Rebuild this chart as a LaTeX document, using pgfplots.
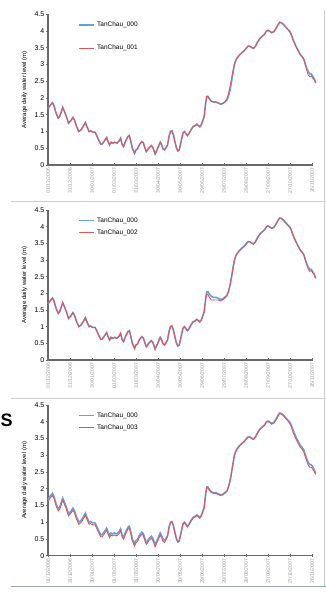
\documentclass[border=0pt]{standalone}
\usepackage{pgfplots}
\pgfplotsset{compat=1.18}
\usepackage{pgfplotstable}
\usepackage{fontspec}
\setmainfont{Liberation Sans}
\definecolor{sblue}{RGB}{105,160,215}
\definecolor{sred}{RGB}{228,85,90}
\definecolor{axgray}{RGB}{105,105,105}
\definecolor{lblgray}{RGB}{150,150,150}
\definecolor{framegray}{RGB}{205,205,205}
\definecolor{framebot}{RGB}{150,165,185}
\pgfplotstableread{
d s0 s1 s2 s3
0 1.68 1.68 1.68 1.62
3 1.78 1.78 1.78 1.72
6 1.86 1.86 1.86 1.80
8 1.78 1.78 1.78 1.72
11 1.55 1.55 1.55 1.49
14 1.40 1.40 1.40 1.34
16 1.45 1.45 1.45 1.39
18 1.58 1.58 1.58 1.52
20 1.72 1.72 1.72 1.66
22 1.62 1.62 1.62 1.56
25 1.45 1.45 1.45 1.39
28 1.25 1.25 1.25 1.19
31 1.32 1.32 1.32 1.26
34 1.42 1.42 1.42 1.36
36 1.35 1.35 1.35 1.29
39 1.15 1.15 1.15 1.09
42 1.00 1.00 1.00 0.94
45 1.05 1.05 1.05 0.99
48 1.15 1.15 1.15 1.09
51 1.27 1.27 1.27 1.21
53 1.15 1.15 1.15 1.09
56 1.00 1.00 1.00 0.94
58 1.02 1.02 1.02 0.96
61 0.98 0.98 0.98 0.92
64 0.98 0.98 0.98 0.92
66 0.90 0.90 0.90 0.84
69 0.75 0.75 0.75 0.69
72 0.62 0.62 0.62 0.56
74 0.63 0.63 0.63 0.57
77 0.72 0.72 0.72 0.66
80 0.82 0.82 0.82 0.76
82 0.70 0.70 0.70 0.64
84 0.60 0.60 0.60 0.54
86 0.68 0.68 0.68 0.62
88 0.65 0.65 0.65 0.59
91 0.68 0.68 0.68 0.62
94 0.65 0.65 0.65 0.59
97 0.72 0.72 0.72 0.66
99 0.80 0.80 0.80 0.74
101 0.62 0.62 0.62 0.56
103 0.55 0.55 0.55 0.49
106 0.72 0.72 0.72 0.66
109 0.85 0.85 0.85 0.79
111 0.88 0.88 0.88 0.82
113 0.70 0.70 0.70 0.64
115 0.50 0.50 0.50 0.44
117 0.40 0.40 0.40 0.34
118 0.35 0.35 0.35 0.29
120 0.45 0.45 0.45 0.39
122 0.48 0.48 0.48 0.42
124 0.58 0.58 0.58 0.52
126 0.65 0.65 0.65 0.59
128 0.70 0.70 0.70 0.64
130 0.66 0.66 0.66 0.60
132 0.52 0.52 0.52 0.46
134 0.40 0.40 0.40 0.34
136 0.45 0.45 0.45 0.39
138 0.52 0.52 0.52 0.46
141 0.58 0.58 0.58 0.52
143 0.52 0.52 0.52 0.46
145 0.40 0.40 0.40 0.34
146 0.33 0.33 0.33 0.27
148 0.42 0.42 0.42 0.36
150 0.52 0.52 0.52 0.46
153 0.68 0.68 0.68 0.62
155 0.60 0.60 0.60 0.54
157 0.48 0.48 0.48 0.42
159 0.45 0.45 0.45 0.40
161 0.52 0.52 0.52 0.48
163 0.60 0.60 0.60 0.57
165 0.85 0.85 0.85 0.82
167 1.00 1.00 1.00 0.98
169 1.02 1.02 1.02 1.01
171 0.90 0.90 0.90 0.89
173 0.70 0.70 0.70 0.69
175 0.52 0.52 0.52 0.50
177 0.42 0.42 0.42 0.40
179 0.45 0.45 0.45 0.43
181 0.65 0.65 0.65 0.63
184 0.95 0.95 0.95 0.93
186 1.00 1.00 1.00 0.98
188 0.94 0.94 0.94 0.92
190 0.88 0.88 0.88 0.86
192 0.93 0.93 0.93 0.91
195 1.05 1.05 1.05 1.03
198 1.15 1.15 1.15 1.13
201 1.18 1.18 1.18 1.16
203 1.22 1.22 1.22 1.20
205 1.18 1.18 1.18 1.16
207 1.14 1.14 1.14 1.12
209 1.20 1.20 1.20 1.18
211 1.32 1.32 1.32 1.30
213 1.45 1.45 1.45 1.43
215 1.85 1.85 1.80 1.83
216.5 2.05 2.05 1.98 2.04
218 2.05 2.05 1.96 2.04
220 1.98 1.98 1.88 1.96
223 1.90 1.90 1.80 1.88
226 1.88 1.88 1.80 1.86
229 1.88 1.88 1.80 1.86
232 1.85 1.85 1.80 1.83
235 1.82 1.82 1.78 1.80
238 1.83 1.83 1.80 1.81
241 1.88 1.88 1.85 1.86
244 1.94 1.98 1.93 1.92
246 2.05 2.12 2.05 2.03
248 2.22 2.32 2.22 2.20
250 2.45 2.55 2.45 2.43
252 2.72 2.78 2.72 2.70
254 2.98 3.00 2.98 2.96
256 3.12 3.13 3.12 3.10
258 3.20 3.20 3.20 3.18
261 3.28 3.28 3.28 3.27
264 3.35 3.35 3.35 3.34
267 3.40 3.40 3.40 3.39
270 3.48 3.48 3.48 3.47
273 3.55 3.55 3.55 3.54
275 3.55 3.55 3.55 3.54
277 3.52 3.52 3.52 3.51
280 3.48 3.48 3.48 3.47
283 3.55 3.55 3.55 3.54
286 3.68 3.68 3.68 3.67
289 3.78 3.78 3.78 3.77
292 3.84 3.84 3.84 3.83
295 3.90 3.90 3.90 3.89
298 4.00 4.00 4.00 3.99
300 4.02 4.02 4.02 4.01
302 4.00 4.00 4.00 3.98
305 3.95 3.95 3.95 3.93
308 3.98 3.98 3.98 3.96
311 4.08 4.08 4.08 4.06
314 4.20 4.20 4.20 4.18
316 4.26 4.26 4.26 4.24
318 4.25 4.25 4.25 4.23
321 4.20 4.20 4.20 4.18
324 4.12 4.12 4.12 4.10
327 4.05 4.05 4.05 4.03
330 3.98 3.98 3.98 3.94
332 3.88 3.88 3.88 3.83
335 3.70 3.70 3.70 3.64
338 3.55 3.55 3.55 3.49
341 3.42 3.42 3.42 3.36
344 3.30 3.30 3.30 3.24
347 3.22 3.22 3.22 3.16
349 3.15 3.15 3.15 3.09
351 3.00 3.00 3.00 2.94
353 2.88 2.82 2.85 2.82
355 2.78 2.68 2.72 2.70
357 2.72 2.64 2.66 2.64
359 2.72 2.66 2.68 2.64
361 2.65 2.60 2.62 2.58
363 2.58 2.55 2.56 2.52
365 2.45 2.45 2.45 2.43
}\wl
\pgfplotsset{panel/.style={
  scale only axis, width=264pt, height=150.7pt,
  xmin=0, xmax=360, ymin=0, ymax=4.5,
  axis x line=bottom, axis y line=left,
  axis line style={-, axgray, line width=1.3pt},
  clip=false,
  xtick={0,30,...,360},
  xticklabels={01/12/2006,31/12/2006,30/01/2007,01/03/2007,31/03/2007,30/04/2007,30/05/2007,29/06/2007,29/07/2007,28/08/2007,27/09/2007,27/10/2007,26/11/2007},
  ytick={0,0.5,...,4.5},
  yticklabels={0,0.5,1,1.5,2,2.5,3,3.5,4,4.5},
  major tick length=3pt, tick align=center,
  tick style={axgray, line width=0.8pt},
  x tick label style={rotate=90, anchor=east, font=\fontsize{5}{5}\selectfont, text=lblgray, inner sep=1.5pt},
  y tick label style={font=\fontsize{7}{7}\selectfont, inner sep=2pt},
  ylabel={Average daily water level (m)},
  ylabel style={font=\fontsize{6}{6}\selectfont, at={(axis description cs:-0.089,0.5)}, anchor=center},
  legend cell align=left,
  legend image code/.code={\draw[#1] (0pt,0pt) -- (15pt,0pt);},
  legend style={draw=none, fill=none, at={(axis description cs:0.115,0.965)}, anchor=north west, font=\fontsize{6.5}{7}\selectfont, inner sep=0pt},
}}
\begin{document}
\begin{tikzpicture}
\useasboundingbox (0pt,0pt) rectangle (326pt,599pt);
% panel 1
\begin{axis}[panel, at={(48pt,434pt)}, anchor=south west, legend style={row sep=13pt}]
\addplot[sblue, line width=1.6pt] table[x=d, y=s0] {\wl};
\addplot[sred, line width=0.9pt] table[x=d, y=s1] {\wl};
\legend{TanChau\_000, TanChau\_001}
\end{axis}
% panel 2
\begin{axis}[panel, at={(48pt,239pt)}, anchor=south west, height=150pt, legend style={row sep=2pt}]
\addplot[sblue, line width=1.6pt] table[x=d, y=s0] {\wl};
\addplot[sred, line width=0.9pt] table[x=d, y=s2] {\wl};
\legend{TanChau\_000, TanChau\_002}
\end{axis}
% panel 3
\begin{axis}[panel, at={(48pt,43.3pt)}, anchor=south west, legend style={row sep=2pt}]
\addplot[sblue, line width=1.6pt] table[x=d, y=s0] {\wl};
\addplot[sred, line width=0.9pt] table[x=d, y=s3] {\wl};
\legend{TanChau\_000, TanChau\_003}
\end{axis}
% frames
\draw[framegray, line width=0.6pt] (11pt,398pt) -- (326pt,398pt);
\draw[framegray, line width=0.6pt] (11pt,201pt) -- (326pt,201pt);
\draw[framegray, line width=0.6pt] (324.5pt,589pt) -- (324.5pt,12pt);
\draw[framebot, line width=1pt] (11pt,12pt) -- (326pt,12pt);
\node[font=\fontsize{18}{18}\selectfont\bfseries, anchor=west, inner sep=0pt] at (0.5pt,179pt) {S};
\end{tikzpicture}
\end{document}
